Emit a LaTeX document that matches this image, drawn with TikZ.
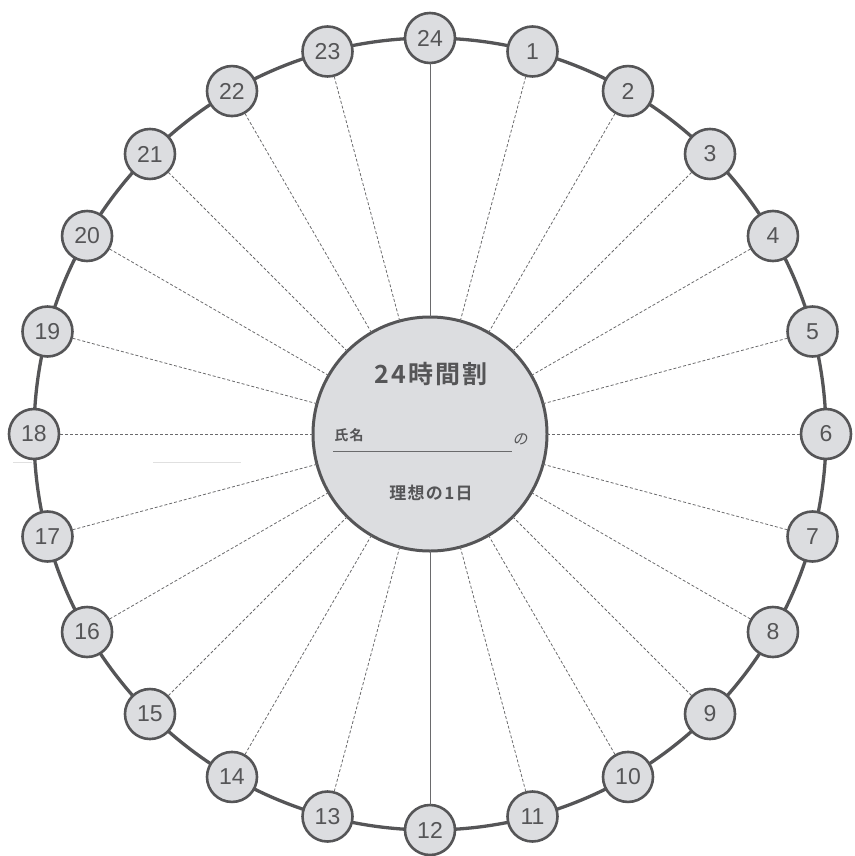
\documentclass[tikz,border=0pt]{standalone}
\usepackage{fontspec}
\setmainfont{Noto Sans CJK JP}
\newfontfamily\numfont{Liberation Sans}
\newfontfamily\jpbold{Noto Sans CJK JP Bold}[LetterSpace=8]
\newfontfamily\jpslant{Noto Sans CJK JP}[FakeSlant=0.2]
\definecolor{dk}{HTML}{555557}
\definecolor{fl}{HTML}{DCDDE0}
\definecolor{ln}{HTML}{6A6A6C}
\tikzset{
  hr/.style={circle, draw=dk, fill=fl, line width=2.6pt, minimum size=50pt, inner sep=0pt, outer sep=0pt, text=dk, font=\numfont\fontsize{23}{23}\selectfont},
  mid/.style={circle, draw=dk, fill=fl, line width=3pt, minimum size=234pt, inner sep=0pt, outer sep=0pt},
  dline/.style={draw=ln, line width=0.8pt, dash pattern=on 3pt off 2pt},
  sline/.style={draw=ln, line width=1pt},
  ttl/.style={text=dk}
}
\begin{document}
\begin{tikzpicture}[x=1pt,y=-1pt]
\useasboundingbox (0,0) rectangle (854,856);
\draw[dk, line width=3.3pt] (430,434) circle[radius=396];
\node[mid] (c) at (430,434) {};
\foreach \h in {1,...,24} {
  \node[hr] (h\h) at ({430+396*sin(15*\h)},{434-396*cos(15*\h)}) {\h};
}
\foreach \h in {1,...,11,13,14,...,23} {
  \draw[dline] (c) -- (h\h);
}
\draw[sline] (c) -- (h24);
\draw[sline] (c) -- (h12);
\node[ttl, font={\jpbold\fontsize{25}{25}\selectfont}] (t) at (431,374) {24時間割};
\node[ttl, font={\jpbold\fontsize{14}{14}\selectfont}] (nm) at (349,435) {氏名};
\node[ttl, font={\jpslant\fontsize{15}{15}\selectfont}] (no) at (520,439) {の};
\node[ttl, font={\jpbold\fontsize{17}{17}\selectfont}] (rs) at (431,493) {理想の1日};
\coordinate (u1) at (333,451.5);
\coordinate (u2) at (512,451.5);
\draw[ln, line width=1pt] (u1) -- (u2);
\coordinate (f1) at (13,462);
\coordinate (f2) at (32,462);
\coordinate (f3) at (153,462);
\coordinate (f4) at (241,462);
\draw[black!12, line width=1pt] (f1) -- (f2) (f3) -- (f4);
\end{tikzpicture}
\end{document}
